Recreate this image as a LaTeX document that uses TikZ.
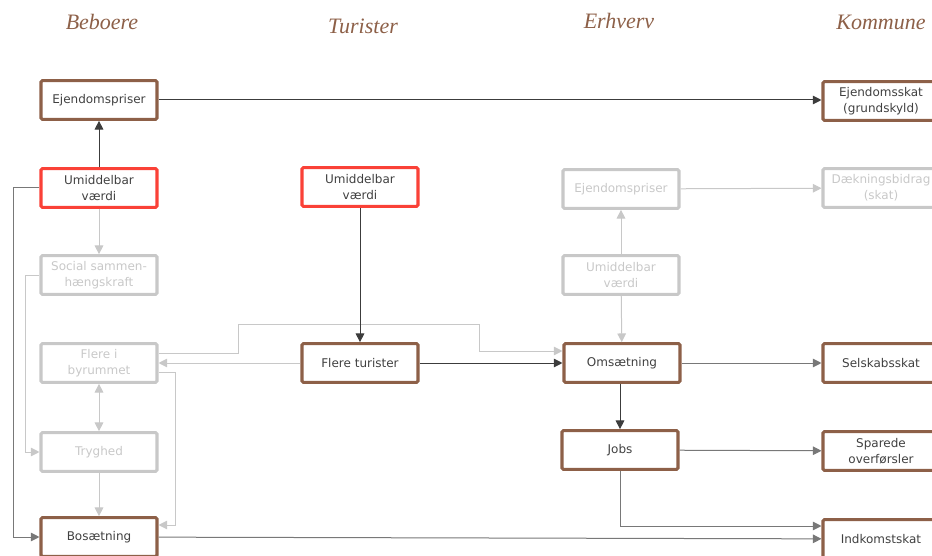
\documentclass[tikz,border=0pt]{standalone}
\usepackage{fontspec}
\setmainfont{DejaVu Sans}
\newfontfamily\titlefont{Liberation Serif}
\usetikzlibrary{arrows.meta}

\definecolor{boxbrown}{RGB}{141,96,72}
\definecolor{hotred}{RGB}{250,65,55}
\definecolor{dimgray}{RGB}{200,200,200}
\definecolor{textgray}{RGB}{64,64,64}
\definecolor{linedark}{RGB}{60,60,60}
\definecolor{linemid}{RGB}{120,120,120}

\begin{document}
\begin{tikzpicture}[x=0.75pt,y=-0.75pt,
    box/.style={draw=boxbrown, line width=2.3pt, rounded corners=1pt,
      minimum width=87pt, minimum height=29pt, inner sep=1pt,
      align=center, text=textgray, font=\fontsize{9}{12}\selectfont},
    hotbox/.style={box, draw=hotred},
    dimbox/.style={box, draw=dimgray, text=dimgray},
    title/.style={text=boxbrown, font=\titlefont\itshape\fontsize{16.5}{18}\selectfont},
    dark/.style={draw=linedark, line width=0.75pt, -{Triangle[length=6.5pt,width=6.5pt]}},
    mid/.style={draw=linemid, line width=0.75pt, -{Triangle[length=6.5pt,width=6.5pt]}},
    light/.style={draw=dimgray, line width=0.75pt, -{Triangle[length=6.5pt,width=6.5pt]}}]

  \useasboundingbox (0,0) rectangle (932,556);
  \clip (0,0) rectangle (932,556);

  % column heads
  \node[title] (tbeb) at (102,22) {Beboere};
  \node[title] (ttur) at (363,26) {Turister};
  \node[title] (terh) at (619,21) {Erhverv};
  \node[title] (tkom) at (881,22) {Kommune};

  % Beboere
  \node[box]    (ejl)    at (99,100)  {Ejendomspriser};
  \node[hotbox] (umil)   at (99,188)  {Umiddelbar\\værdi};
  \node[dimbox] (social) at (99,275)  {Social sammen-\\hængskraft};
  \node[dimbox] (flere)  at (99,363)  {Flere i\\byrummet};
  \node[dimbox] (tryg)   at (99,452)  {Tryghed};
  \node[box]    (bos)    at (99,537)  {Bosætning};

  % Turister
  \node[hotbox] (umim)   at (360,187) {Umiddelbar\\værdi};
  \node[box]    (fltur)  at (360,363) {Flere turister};

  % Erhverv
  \node[dimbox] (eje)    at (621,189) {Ejendomspriser};
  \node[dimbox] (umie)   at (621,275) {Umiddelbar\\værdi};
  \node[box]    (oms)    at (622,363) {Omsætning};
  \node[box]    (jobs)   at (620,450) {Jobs};

  % Kommune
  \node[box]    (ejskat) at (881,101) {Ejendomsskat\\(grundskyld)};
  \node[dimbox] (daek)   at (881,188) {Dækningsbidrag\\(skat)};
  \node[box]    (selsk)  at (881,363) {Selskabsskat};
  \node[box]    (spar)   at (881,451) {Sparede\\overførsler};
  \node[box]    (indk)   at (881,539) {Indkomstskat};

  % the connections
  \draw[dark] (ejl) -- (ejl -| ejskat.west);
  \draw[dark] (umil) -- (ejl);
  \draw[light] (umil) -- (social);
  \draw[mid] (umil.west) -- ++(-26,0) |- (bos.west);
  \draw[light] (social.west) -- ++(-14,0) |- (tryg.west);
  \draw[light, {Triangle[length=6.5pt,width=6.5pt]}-{Triangle[length=6.5pt,width=6.5pt]}] (flere) -- (tryg);
  \draw[light] (tryg) -- (bos);
  \draw[light] ([yshift=-6.75pt]flere.east) -- ++(17,0) |- ([yshift=9pt]bos.east);
  \draw[light] (fltur) -- (flere);
  \draw[light] ([yshift=7.5pt]flere.east) -| (238,324) -| (479,351) -- ([yshift=9pt]oms.west);
  \draw[dark] (umim) -- (fltur);
  \draw[dark] (fltur) -- (oms);
  \draw[light] (umie) -- (eje);
  \draw[light] (umie) -- (oms);
  \draw[light] (eje) -- (daek);
  \draw[mid] (oms) -- (selsk);
  \draw[dark] (oms.south -| jobs) -- (jobs);
  \draw[mid] (jobs) -- (spar);
  \draw[mid] (jobs.south) |- ([yshift=9.75pt]indk.west);
  \draw[mid] (bos) -- (indk);
\end{tikzpicture}
\end{document}
